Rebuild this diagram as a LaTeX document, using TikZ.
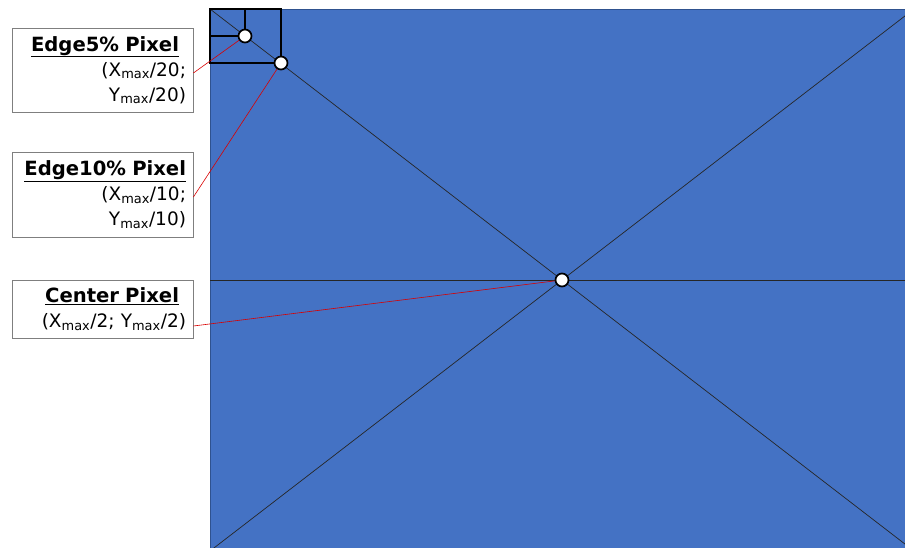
\documentclass[tikz,border=0pt]{standalone}
\usepackage{fontspec}
\setmainfont{DejaVu Sans}
\usetikzlibrary{positioning}
\definecolor{imgblue}{HTML}{4472C4}
\definecolor{imgedge}{HTML}{2F528F}
\definecolor{boxgray}{HTML}{7F7F7F}
\tikzset{
  pixel/.style={circle, draw=black, line width=1.7pt, fill=white, minimum size=13pt, inner sep=0pt},
  labelbox/.style={draw=boxgray, line width=0.8pt, fill=white, minimum width=181pt, text width=167pt,
    align=right, inner xsep=7pt, inner ysep=5pt, font=\fontsize{18.5}{25}\selectfont},
  pointer/.style={red!85!black, line width=0.6pt}
}
\newcommand{\maxsub}{\textsubscript{max}}
\newcommand{\boxtitle}[1]{{\fontsize{19.6}{25}\selectfont\underline{\textbf{#1}}}}
\begin{document}
\begin{tikzpicture}[x=1pt,y=-1pt]
  \useasboundingbox (0,0) rectangle (905,548);
  \begin{scope}
    \clip (0,0) rectangle (905,548);
    % the image area, larger than the frame
    \draw[fill=imgblue, draw=imgedge, line width=0.8pt] (210,9) rectangle (914,551);
    \draw[black!85, line width=0.7pt] (210,9) -- (914,551);
    \draw[black!85, line width=0.7pt] (210,551) -- (914,9);
    \draw[black!85, line width=0.7pt] (210,280) -- (914,280);
    % the two edge squares
    \draw[black, line width=2pt] (210,9) rectangle (281,63);
    \draw[black, line width=2pt] (210,36) -| (245,9);
  \end{scope}

  % label boxes
  \node[labelbox, minimum height=84pt] (box5) at (102.5,70)
    {\boxtitle{Edge5\% Pixel}\rule{7pt}{0pt}\\(X\maxsub/20;\\Y\maxsub/20)};
  \node[labelbox, minimum height=85pt] (box10) at (102.5,194.5)
    {\boxtitle{Edge10\% Pixel}\\(X\maxsub/10;\\Y\maxsub/10)};
  \node[labelbox, minimum height=58pt] (boxc) at (102.5,309)
    {\boxtitle{Center Pixel}\rule{7pt}{0pt}\\(X\maxsub/2; Y\maxsub/2)};

  % pixels
  \node[pixel] (p5) at (245,36) {};
  \node[pixel] (p10) at (281,63) {};
  \node[pixel] (pc) at (562,280) {};

  % pointers
  \draw[pointer] ([yshift=-3pt]box5.east) -- (p5);
  \draw[pointer] ([yshift=-2.5pt]box10.east) -- (p10);
  \draw[pointer] ([yshift=-17pt]boxc.east) -- (pc);
\end{tikzpicture}
\end{document}
